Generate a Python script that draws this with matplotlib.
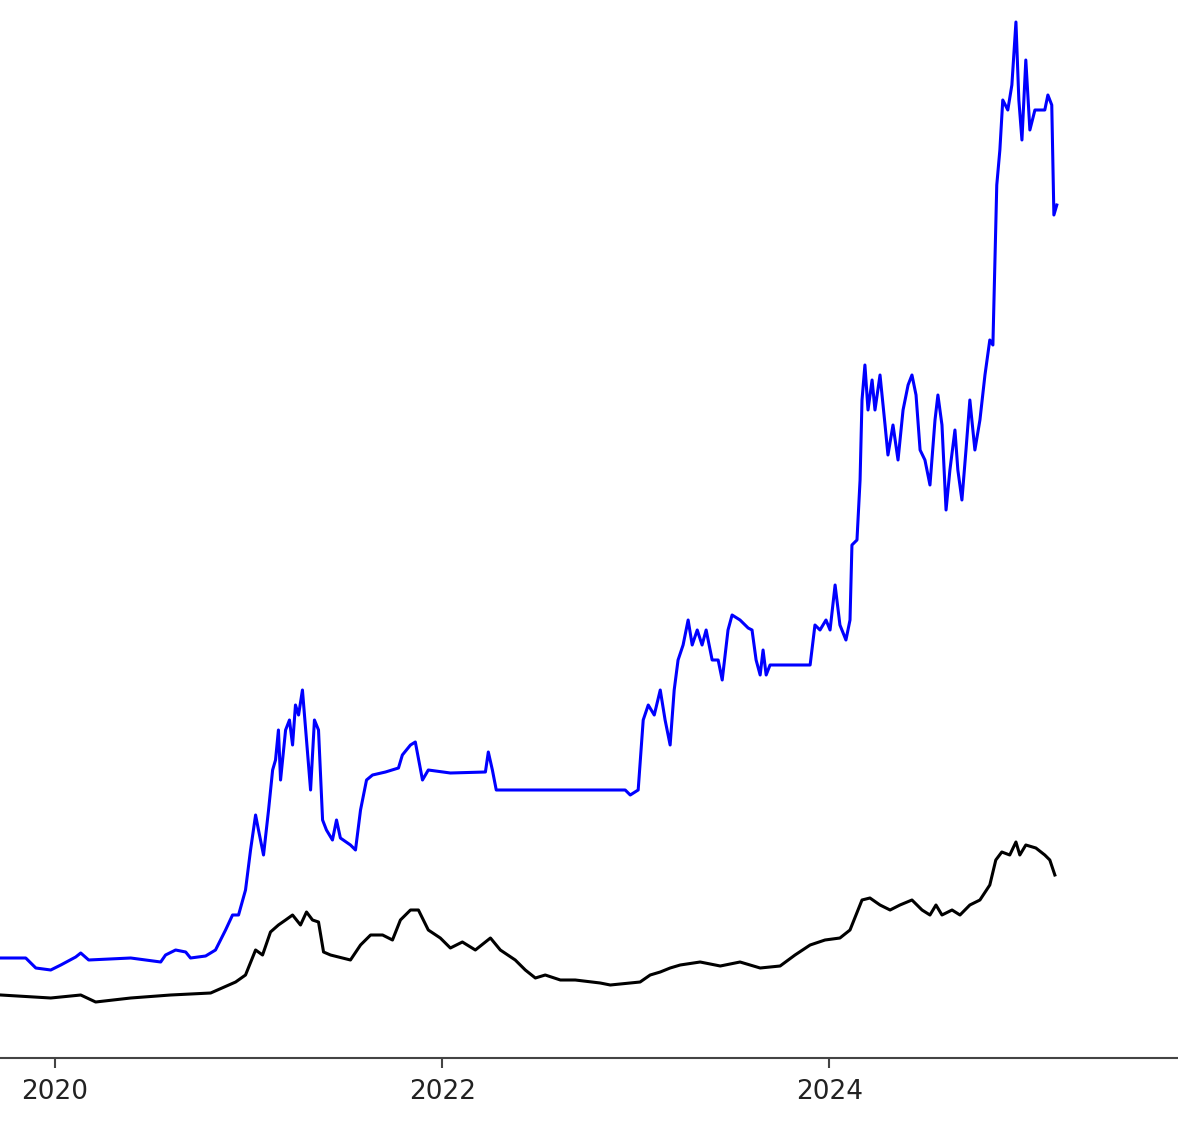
import matplotlib
matplotlib.use("Agg")
import matplotlib.pyplot as plt

blue_t = [2019.72,2019.849,2019.901,2019.978,2020.030,2020.107,2020.133,2020.174,2020.391,2020.546,2020.571,2020.623,2020.675,2020.700,2020.778,2020.829,2020.881,2020.917,2020.948,2020.984,2021.010,2021.036,2021.051,2021.077,2021.103,2021.124,2021.139,2021.154,2021.165,2021.191,2021.211,2021.227,2021.242,2021.258,2021.278,2021.299,2021.320,2021.340,2021.361,2021.382,2021.402,2021.433,2021.454,2021.474,2021.526,2021.552,2021.578,2021.609,2021.640,2021.707,2021.774,2021.794,2021.836,2021.861,2021.898,2021.928,2022.042,2022.223,2022.238,2022.259,2022.279,2022.816,2022.945,2022.971,2023.012,2023.038,2023.064,2023.095,2023.126,2023.151,2023.177,2023.198,2023.218,2023.244,2023.270,2023.291,2023.317,2023.342,2023.363,2023.394,2023.425,2023.446,2023.476,2023.497,2023.538,2023.580,2023.600,2023.621,2023.642,2023.657,2023.673,2023.693,2023.900,2023.925,2023.951,2023.982,2024.003,2024.029,2024.054,2024.085,2024.106,2024.116,2024.142,2024.158,2024.168,2024.183,2024.199,2024.220,2024.235,2024.261,2024.287,2024.302,2024.328,2024.354,2024.380,2024.406,2024.426,2024.447,2024.468,2024.493,2024.519,2024.545,2024.560,2024.581,2024.602,2024.622,2024.648,2024.663,2024.684,2024.705,2024.725,2024.751,2024.777,2024.803,2024.828,2024.844,2024.864,2024.880,2024.895,2024.921,2024.942,2024.963,2024.978,2024.994,2025.014,2025.035,2025.061,2025.112,2025.128,2025.148,2025.159,2025.174]
blue_v = [100,100,90,88,93,101,105,98,100,96,103,108,106,100,102,108,128,143,143,168,208,243,228,203,248,288,298,328,278,328,338,313,353,343,368,318,268,338,328,238,228,218,238,220,213,208,248,278,283,286,290,303,313,316,278,288,285,286,306,288,268,268,268,263,268,338,353,343,368,338,313,368,398,413,438,413,428,413,428,398,398,378,428,443,438,430,428,398,383,408,383,393,393,433,428,438,428,473,433,418,438,513,518,578,658,693,648,678,648,683,633,603,633,598,648,673,683,663,608,598,573,638,663,633,548,588,628,588,558,608,658,608,638,683,718,713,873,908,958,948,973,1036,958,918,998,928,948,948,963,953,843,853]

black_t = [2019.72,2019.978,2020.133,2020.210,2020.391,2020.597,2020.804,2020.933,2020.984,2021.036,2021.072,2021.113,2021.154,2021.191,2021.227,2021.268,2021.299,2021.330,2021.361,2021.387,2021.423,2021.526,2021.578,2021.630,2021.692,2021.743,2021.784,2021.836,2021.877,2021.928,2021.990,2022.042,2022.104,2022.171,2022.249,2022.300,2022.377,2022.429,2022.481,2022.532,2022.610,2022.687,2022.816,2022.868,2023.022,2023.074,2023.126,2023.177,2023.229,2023.332,2023.436,2023.538,2023.642,2023.745,2023.822,2023.900,2023.977,2024.054,2024.106,2024.168,2024.209,2024.261,2024.313,2024.364,2024.426,2024.478,2024.519,2024.550,2024.581,2024.633,2024.674,2024.725,2024.777,2024.828,2024.859,2024.890,2024.931,2024.963,2024.983,2025.014,2025.066,2025.112,2025.138,2025.164]
black_v = [63,60,63,56,60,63,65,76,83,108,103,126,133,138,143,133,146,138,136,106,103,98,113,123,123,118,138,148,148,128,120,110,116,108,120,108,98,88,80,83,78,78,75,73,76,83,86,90,93,96,92,96,90,92,103,113,118,120,128,158,160,153,148,153,158,148,143,153,143,148,143,153,158,173,198,206,203,216,203,213,210,203,198,183]

fig = plt.figure(figsize=(11.78, 11.36), dpi=100)
ax = fig.add_axes([0, 1 - 1058/1136, 1, 1058/1136])
ax.plot(blue_t, blue_v, color="blue", lw=2.2)
ax.plot(black_t, black_v, color="black", lw=2.2)
ax.set_xlim(2019.716, 2025.80)
ax.set_ylim(0, 1058)
for s in ["top", "right", "left"]:
    ax.spines[s].set_visible(False)
ax.spines["bottom"].set_linewidth(1.5)
ax.spines["bottom"].set_color("#444444")
ax.set_yticks([])
ax.set_xticks([2020, 2022, 2024])
ax.set_xticklabels(["2020", "2022", "2024"], fontsize=19, color="#222222")
ax.tick_params(axis="x", length=7, width=1.5, pad=8, color="#444444")
fig.savefig("out.png", dpi=100)
